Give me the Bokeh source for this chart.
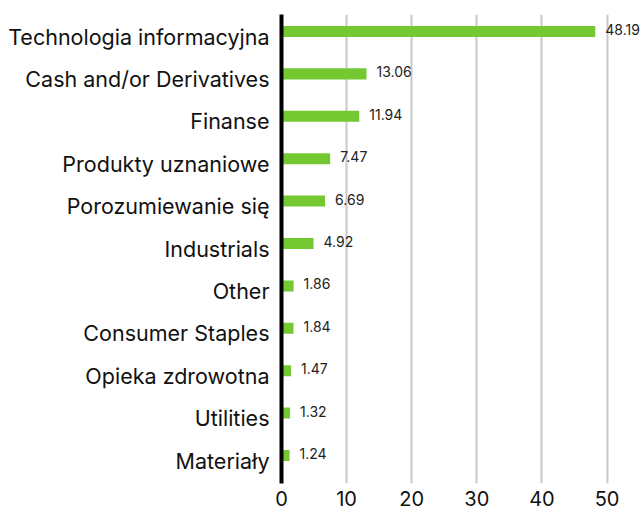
from bokeh.plotting import figure
from bokeh.models import ColumnDataSource, Range1d, FixedTicker
from bokeh.transform import dodge
from bokeh.core.properties import value
from bokeh.embed import file_html
from bokeh.resources import INLINE

categories = ["Technologia informacyjna", "Cash and/or Derivatives", "Finanse",
              "Produkty uznaniowe", "Porozumiewanie się", "Industrials", "Other",
              "Consumer Staples", "Opieka zdrowotna", "Utilities", "Materiały"]
values = [48.19, 13.06, 11.94, 7.47, 6.69, 4.92, 1.86, 1.84, 1.47, 1.32, 1.24]
value_labels = ["48.19", "13.06", "11.94", "7.47", "6.69", "4.92", "1.86", "1.84", "1.47", "1.32", "1.24"]
x_ticks = [0, 10, 20, 30, 40, 50]

FONT = "Inter"
positions = list(range(len(categories)))
src = ColumnDataSource(dict(y=positions, v=values, lab=value_labels))

p = figure(width=643, height=510, output_backend="svg", toolbar_location=None,
           x_range=Range1d(0, 55.6), y_range=Range1d(10.54, -0.52),
           min_border_left=281, min_border_right=0, min_border_top=14, min_border_bottom=27)

p.hbar(y=dodge("y", -0.12), right="v", left=0, height=0.26, source=src,
       fill_color="#74c832", line_color=None)
p.text(x="v", y=dodge("y", -0.12), text="lab", source=src, x_offset=10, y_offset=-2,
       text_baseline="middle", text_align="left", text_font=value(FONT),
       text_font_size="14px", text_color="#222222")

p.yaxis.ticker = FixedTicker(ticks=positions)
p.yaxis.major_label_overrides = {i: c for i, c in zip(positions, categories)}
p.yaxis.axis_line_color = "black"
p.yaxis.axis_line_width = 4
p.yaxis.major_tick_line_color = None
p.yaxis.minor_tick_line_color = None
p.yaxis.major_label_text_font = FONT
p.yaxis.major_label_text_font_size = "21.5px"
p.yaxis.major_label_text_color = "#111111"
p.yaxis.major_label_standoff = 6

p.xaxis.ticker = FixedTicker(ticks=x_ticks)
p.xaxis.axis_line_color = None
p.xaxis.major_tick_line_color = None
p.xaxis.minor_tick_line_color = None
p.xaxis.major_label_text_font = FONT
p.xaxis.major_label_text_font_size = "20px"
p.xaxis.major_label_text_color = "#111111"
p.xaxis.major_label_standoff = 1

p.ygrid.grid_line_color = None
p.xgrid.ticker = FixedTicker(ticks=x_ticks[1:])
p.xgrid.grid_line_color = "#c8c8c8"
p.xgrid.grid_line_width = 2
p.outline_line_color = None
p.background_fill_color = "white"
p.border_fill_color = "white"

open("out.html", "w").write(file_html(p, INLINE))
